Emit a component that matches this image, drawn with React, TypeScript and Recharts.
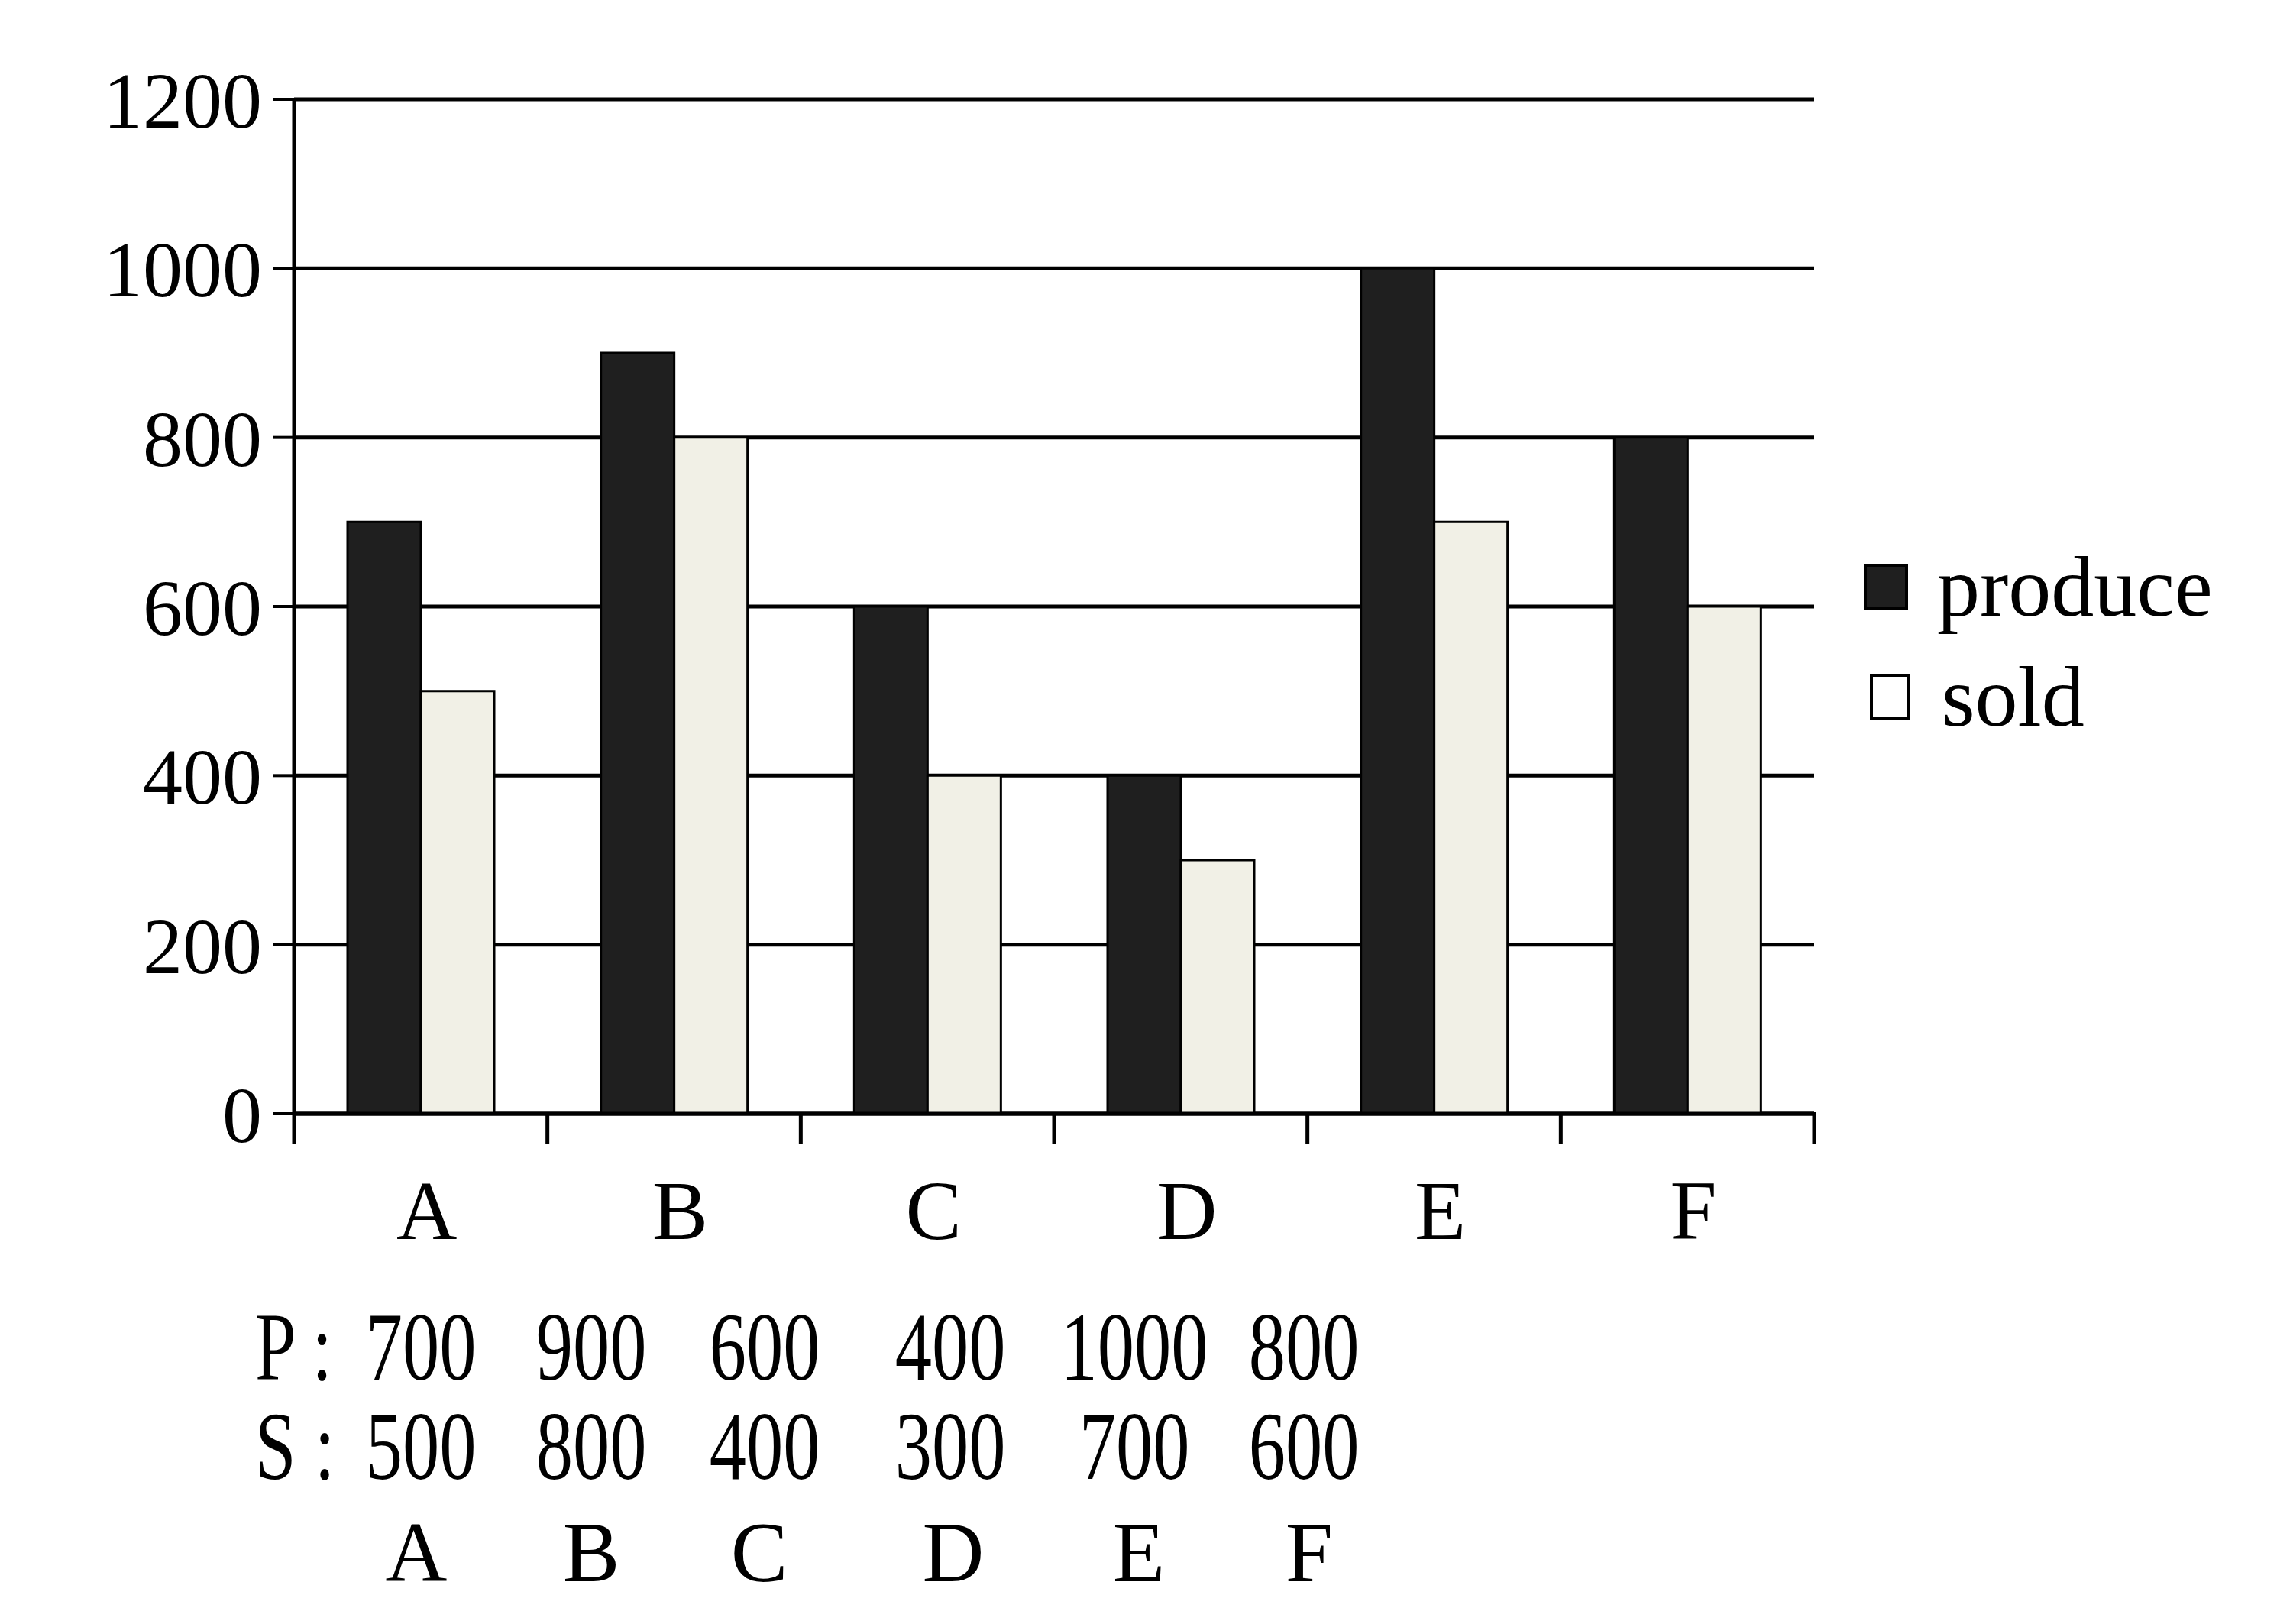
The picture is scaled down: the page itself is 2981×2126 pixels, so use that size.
import React from 'react';
import { BarChart, Bar, XAxis, YAxis, CartesianGrid, Legend } from 'recharts';

const categories = ['A', 'B', 'C', 'D', 'E', 'F'];
const produce = [700, 900, 600, 400, 1000, 800];
const sold = [500, 800, 400, 300, 700, 600];
const yTicks = [0, 200, 400, 600, 800, 1000, 1200];
const seriesNames = { produce: 'produce', sold: 'sold' };
const rowLabels = ['P :', 'S :'];

const data = categories.map((name, i) => ({ name, produce: produce[i], sold: sold[i] }));

const FONT = '"Liberation Serif", "Times New Roman", serif';
const PRODUCE_FILL = '#1f1f1f';
const SOLD_FILL = '#f1f0e6';

// layout of the value table below the chart
const colCenters = [551, 774, 1001, 1244, 1485, 1707];
const letterCenters = [545, 774, 994, 1248, 1491, 1714];

const TICK_LEN = 40;
const LABEL_GAP = 86;

// Category tick: label at band centre + boundary tick marks at band edges
const CatTick = (props: any) => {
  const { x, y, payload, index, visibleTicksCount } = props;
  const half = payload && typeof payload.offset === 'number' ? payload.offset : 0;
  const axisY = y;
  return (
    <g>
      <line x1={x - half} x2={x - half} y1={axisY - 2} y2={axisY + TICK_LEN} stroke="#000" strokeWidth={5} />
      {index === visibleTicksCount - 1 && (
        <line x1={x + half} x2={x + half} y1={axisY - 2} y2={axisY + TICK_LEN} stroke="#000" strokeWidth={5} />
      )}
      <text
        x={x + 8}
        y={axisY + LABEL_GAP}
        dy="0.71em"
        textAnchor="middle"
        fontFamily={FONT}
        fontSize={110}
        fill="#000"
      >
        {payload.value}
      </text>
    </g>
  );
};

const LegendContent = (props: any) => {
  const { payload } = props;
  return (
    <div style={{ fontFamily: FONT }}>
      {(payload || []).map((p: any) => {
        const isProduce = p.dataKey === 'produce';
        return (
          <div key={p.value} style={{ display: 'flex', alignItems: 'center', height: 144 }}>
            <div
              style={{
                width: isProduce ? 50 : 44,
                height: 52,
                background: isProduce ? PRODUCE_FILL : '#ffffff',
                border: '4px solid #000',
                marginRight: isProduce ? 38 : 42,
                marginLeft: isProduce ? 0 : 8,
              }}
            />
            <span style={{ fontSize: 112, color: '#000', lineHeight: 1 }}>{p.value}</span>
          </div>
        );
      })}
    </div>
  );
};

export default function App() {
  return (
    <div style={{ position: 'absolute', left: 0, top: 0, width: 2981, height: 2126, background: '#fff' }}>
      <BarChart
        width={2981}
        height={1700}
        data={data}
        margin={{ top: 130, right: 606, bottom: 241, left: 0 }}
        barGap={0}
        barSize={96}
      >
        <CartesianGrid vertical={false} stroke="#000" strokeWidth={5} />
        <XAxis
          dataKey="name"
          height={1}
          axisLine={{ stroke: '#000', strokeWidth: 5 }}
          tickLine={false}
          tickSize={0}
          tickMargin={0}
          interval={0}
          tick={<CatTick />}
        />
        <YAxis
          width={385}
          domain={[0, 1200]}
          ticks={yTicks}
          interval={0}
          tickSize={28}
          tickMargin={14}
          tickLine={{ stroke: '#000', strokeWidth: 4 }}
          axisLine={{ stroke: '#000', strokeWidth: 5 }}
          tick={{ fontFamily: FONT, fontSize: 104, fill: '#000' }}
        />
        <Legend
          layout="vertical"
          align="center"
          verticalAlign="middle"
          content={<LegendContent />}
          wrapperStyle={{ left: 2440, top: 696, width: 540 }}
        />
        <Bar
          dataKey="produce"
          name={seriesNames.produce}
          fill={PRODUCE_FILL}
          stroke="#000"
          strokeWidth={3}
          isAnimationActive={false}
        />
        <Bar
          dataKey="sold"
          name={seriesNames.sold}
          fill={SOLD_FILL}
          stroke="#000"
          strokeWidth={3}
          isAnimationActive={false}
        />
      </BarChart>
      <svg
        width={2981}
        height={2126}
        style={{ position: 'absolute', left: 0, top: 0, pointerEvents: 'none' }}
      >
        <g fontFamily={FONT} fill="#000">
          <text transform={`translate(334,1806) scale(0.76,1)`} fontSize={127}>{rowLabels[0]}</text>
          <text transform={`translate(334,1936) scale(0.76,1)`} fontSize={127}>{rowLabels[1]}</text>
          {produce.map((v, i) => (
            <text key={'p' + i} transform={`translate(${colCenters[i]},1806) scale(0.76,1)`} fontSize={127} textAnchor="middle">
              {v}
            </text>
          ))}
          {sold.map((v, i) => (
            <text key={'s' + i} transform={`translate(${colCenters[i]},1936) scale(0.76,1)`} fontSize={127} textAnchor="middle">
              {v}
            </text>
          ))}
          {categories.map((c, i) => (
            <text key={'c' + i} x={letterCenters[i]} y={2070} fontSize={112} textAnchor="middle">
              {c}
            </text>
          ))}
        </g>
      </svg>
    </div>
  );
}
